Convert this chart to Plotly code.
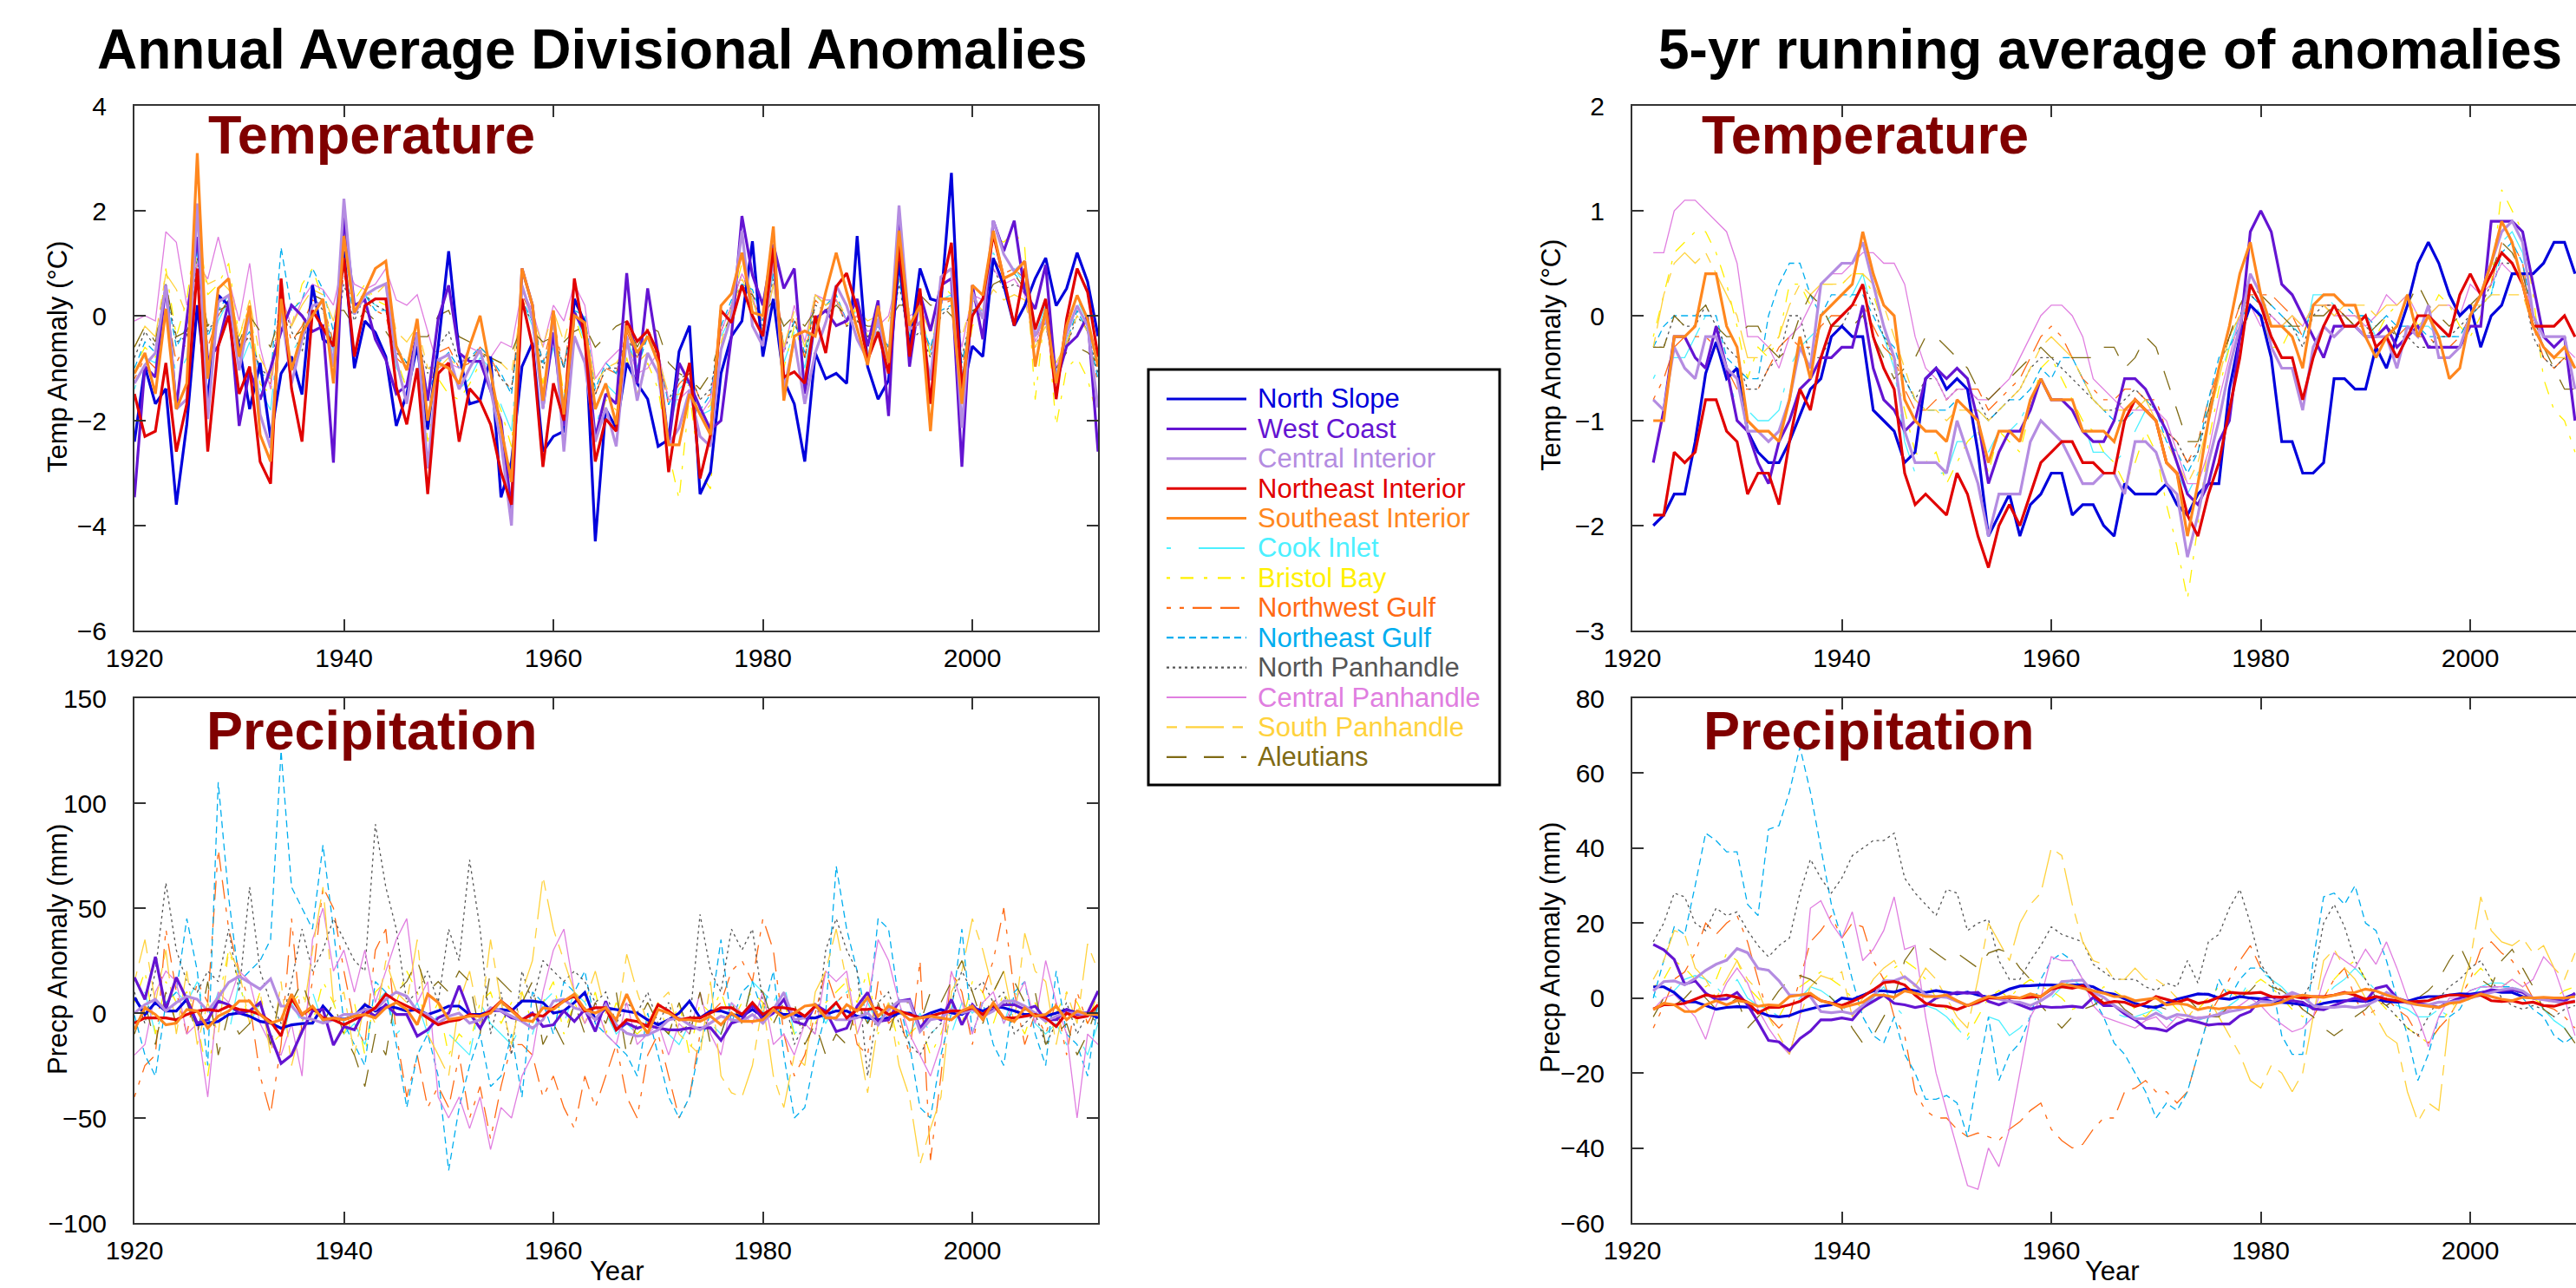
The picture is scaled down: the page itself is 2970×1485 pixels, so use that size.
import plotly.graph_objects as go

W, H = 2970, 1485
FONT = "Liberation Sans, Arial, Helvetica, sans-serif"

years = list(range(1920, 2013))
years5 = list(range(1922, 2011))

regions = ["North Slope", "West Coast", "Central Interior", "Northeast Interior", "Southeast Interior",
           "Cook Inlet", "Bristol Bay", "Northwest Gulf", "Northeast Gulf", "North Panhandle",
           "Central Panhandle", "South Panhandle", "Aleutians"]

# ---------------- Annual temperature anomalies (deg C), 1920-2012 ----------------
ns_t = [-2.4, -0.97, -1.68, -1.39, -3.6, -2.07, 0.2, -1.6, 0.39, 0.2,
        -0.58, -1.78, -0.9, -2.33, -1.1, -0.78, -1.5, 0.58, -0.45, -0.58,
        1.23, -1.0, -0.1, -0.32, -0.78, -2.1, -1.49, -0.58, -2.17, -0.58,
        1.23, -0.71, -1.68, -1.62, -0.78, -3.46, -2.78, -0.97, -0.52, -2.59,
        -2.3, -2.2, 0.32, -0.13, -4.3, -1.78, -2.14, -0.9, -1.29, -1.59,
        -2.49, -2.36, -0.68, -0.19, -3.4, -2.98, -1.1, -0.39, -0.1, 1.42,
        -0.78, 0.32, -1.23, -1.68, -2.78, -0.71, -1.2, -1.1, -1.29, 1.52,
        -0.97, -1.59, -1.23, 1.04, -0.65, 0.9, 0.32, 0.26, 2.72, -1.49,
        -0.58, -0.78, 1.1, 0.58, -0.19, 0.19, 0.71, 1.1, 0.19, 0.52,
        1.2, 0.65, -0.39]
wc_t = [-3.46, -0.97, -1.17, 0.58, -1.75, -0.06, 1.5, -0.84, -0.58, 0.26,
        -2.1, -1.04, -1.6, -1.0, -0.3, 0.2, 0.0, -0.3, -0.2, -2.8,
        1.9, 0.2, 0.3, -0.45, -0.84, -1.49, -1.33, -0.32, -1.62, -0.06,
        0.58, -0.71, -0.87, -0.87, -1.42, -2.0, -3.7, 0.9, 0.2, -1.75,
        -0.32, -2.1, 0.06, -0.32, -2.33, -1.49, -1.68, 0.81, -1.29, 0.52,
        -0.74, -2.46, -0.9, -1.29, -1.75, -2.17, -2.0, -0.39, 1.9, 0.78,
        0.2, 1.36, 0.52, 0.9, -1.49, -0.06, 0.1, -0.19, -0.1, 0.32,
        -0.58, 0.29, -1.91, 1.88, -0.97, 0.42, -0.29, 0.58, 0.71, -2.88,
        0.58, -0.45, 1.81, 1.23, 1.81, 0.45, 0.13, 0.97, -1.29, -0.58,
        -0.39, 0.0, -2.59]
ci_t = [-1.29, -0.94, -0.71, 0.58, -1.78, -1.59, 2.14, -1.97, 0.26, 0.39,
        -1.04, 0.06, -1.88, -2.52, 0.13, -1.29, -0.45, 0.19, 0.26, -0.97,
        2.23, 0.03, 0.39, 0.52, 0.61, -0.84, -1.68, -0.32, -2.91, -0.84,
        -0.74, -1.4, -1.0, -0.65, -1.4, -2.4, -4.0, 0.58, -0.06, -1.78,
        0.06, -2.59, -0.39, -0.9, -2.4, -1.75, -2.49, -0.39, -1.62, -0.71,
        -1.1, -2.46, -2.14, -1.42, -2.3, -2.49, -0.65, 0.0, 1.62, -0.19,
        -0.58, 1.17, -1.42, -0.45, -1.68, -0.71, -0.13, 0.58, 0.19, -0.45,
        -0.84, -0.06, -0.9, 2.1, -0.26, -0.13, -1.23, 0.74, 0.9, -2.14,
        0.45, -0.06, 1.81, 1.17, 0.84, 1.04, -0.39, 0.0, -1.23, -0.32,
        0.19, -0.19, -1.75]
nei_t = [-1.49, -2.3, -2.2, -0.9, -2.59, -1.68, 0.9, -2.59, -0.58, 0.0,
         -1.49, -0.97, -2.78, -3.2, 0.71, -1.39, -2.4, 0.1, -0.23, -0.58,
         1.1, -0.78, 0.19, 0.32, 0.32, -1.36, -2.07, -1.0, -3.4, -1.1,
         -0.9, -2.4, -1.39, -1.62, -2.07, -2.98, -3.6, 0.32, -0.58, -2.88,
         -1.29, -2.0, 0.71, -0.45, -2.78, -1.97, -2.2, -0.1, -0.49, -0.29,
         -0.71, -2.98, -1.68, -0.9, -3.1, -2.27, 0.1, -0.13, 0.58, 0.0,
         -0.39, 1.29, -1.17, -1.07, -1.29, 0.0, -0.71, 0.55, 0.81, 0.13,
         -0.84, -0.32, -1.1, 1.36, -0.78, 0.52, -1.68, 0.45, 1.39, -1.36,
         0.0, 0.32, 1.55, 0.71, -0.19, 0.9, -0.26, 0.32, -1.59, -0.06,
         0.9, 0.45, -0.78]
sei_t = [-1.1, -0.71, -1.49, 0.13, -1.78, -1.29, 3.1, -1.2, 0.52, 0.71,
         -0.78, 0.19, -2.27, -2.78, 0.32, -1.04, -0.32, 0.0, 0.32, -1.29,
         1.52, 0.06, 0.45, 0.9, 1.04, -0.58, -1.04, -0.06, -2.0, -0.9,
         -1.0, -1.3, -0.58, 0.0, -1.1, -2.14, -3.17, 0.9, 0.2, -1.62,
         0.1, -1.88, 0.0, -0.13, -1.78, -1.29, -2.07, -0.19, -0.71, -0.39,
         -0.9, -2.46, -2.46, -1.49, -1.88, -2.27, 0.19, 0.42, 1.2, 0.06,
         0.0, 1.7, -1.62, -0.39, -0.29, -0.39, 0.45, 1.2, 0.45, -0.26,
         -0.94, 0.19, -0.9, 1.62, -0.19, 0.19, -2.2, 0.32, 0.32, -1.68,
         0.58, 0.39, 1.62, 0.71, 0.81, 1.04, -0.97, 0.13, -1.29, -0.19,
         0.39, -0.06, -0.97]
cook_t = [-1.4, -0.8, -0.9, 0.3, -1.2, -0.8, 1.2, -0.9, -0.1, 0.3,
          -1.0, -0.5, -1.4, -1.8, 0.1, -0.7, -0.4, 0.2, 0.3, -0.7,
          1.2, 0.1, 0.4, 0.2, 0.2, -1.0, -1.3, -0.6, -2.0, -0.9,
          -1.0, -1.4, -1.2, -0.8, -1.0, -1.7, -2.2, 0.3, -0.2, -1.4,
          -0.6, -1.6, 0.1, -0.5, -2.2, -1.3, -1.5, -0.4, -1.0, -0.3,
          -0.9, -2.2, -1.4, -1.2, -1.9, -1.8, -0.4, 0.0, 0.9, 0.3,
          -0.3, 0.8, -0.9, -0.3, -1.0, 0.2, 0.3, 0.3, -0.1, 0.1,
          -0.5, -0.3, -0.9, 1.0, -0.4, 0.1, -0.7, 0.3, 0.4, -1.2,
          0.0, 0.0, 1.2, 0.8, 0.9, 0.6, -0.4, 0.2, -1.1, -0.5,
          0.3, -0.1, -1.2]
bb_t = [-1.0, -0.6, -0.8, 0.9, -0.4, 0.3, 1.8, 0.4, 0.6, 1.0,
        -0.4, 0.2, -1.3, -1.5, 0.4, -0.2, 0.6, 0.9, 0.3, -0.6,
        1.6, 0.3, 0.6, 0.3, 0.2, -0.8, -1.4, -0.6, -2.4, -1.2,
        -1.5, -1.6, -1.3, -0.9, -1.3, -1.8, -2.5, 0.5, 0.0, -1.3,
        -0.2, -1.5, 0.0, -0.6, -2.4, -1.6, -1.8, -0.8, -1.5, -0.9,
        -1.4, -2.6, -3.5, -1.5, -3.0, -3.3, -0.6, 0.2, 1.0, 0.4,
        -0.4, 0.6, -1.0, -0.2, -0.8, 0.4, 0.2, 0.4, -0.2, 0.2,
        -0.4, -0.4, -0.7, 1.0, -0.3, 0.2, -0.8, 0.6, 0.4, -1.5,
        -0.2, 0.1, 1.5, 1.4, 1.6, 1.3, -1.6, 0.2, -2.1, -1.0,
        -0.8, -1.2, -2.0]
nwg_t = [-1.2, -0.8, -1.0, 0.2, -0.9, -0.5, 1.0, -0.6, 0.0, 0.3,
         -0.8, -0.3, -1.1, -1.3, 0.3, -0.5, -0.2, 0.3, 0.2, -0.5,
         0.8, 0.1, 0.3, 0.1, 0.0, -0.8, -1.0, -0.5, -1.6, -0.7,
         -0.6, -1.0, -0.9, -0.6, -0.8, -1.2, -1.4, 0.4, 0.0, -0.9,
         -0.1, -1.0, 0.3, -0.3, -1.5, -1.0, -1.1, -0.3, -0.8, -0.2,
         -0.8, -1.7, -1.3, -1.1, -1.6, -1.5, -0.3, 0.2, 0.8, 0.3,
         -0.1, 0.9, -0.6, 0.0, -0.8, 0.3, 0.1, 0.3, -0.2, 0.0,
         -0.4, -0.3, -0.6, 0.9, -0.5, -0.1, -0.7, 0.2, 0.3, -1.0,
         0.0, 0.0, 1.1, 0.8, 0.9, 0.7, -0.5, 0.1, -1.2, -0.6,
         0.1, -0.3, -1.3]
neg_t = [-1.0, -0.5, -0.7, 0.5, -0.6, -0.2, 1.3, -0.4, 0.1, 0.4,
         -0.6, -0.3, -1.1, -1.2, 1.3, 0.1, 0.3, 0.9, 0.5, -0.3,
         0.9, 0.0, 0.4, 0.1, 0.1, -0.6, -0.9, -0.5, -1.5, -0.9,
         -0.7, -1.0, -0.8, -0.6, -0.8, -1.1, -1.5, 0.3, -0.1, -0.9,
         -0.4, -1.0, 0.1, 0.0, -1.4, -0.9, -1.1, -0.5, -1.0, -0.4,
         -0.7, -1.7, -1.2, -1.3, -1.8, -1.5, -0.2, 0.3, 0.6, 0.5,
         -0.1, 0.8, -0.6, -0.1, -0.7, 0.4, 0.2, 0.4, -0.1, 0.0,
         -0.4, -0.2, -0.6, 0.7, -0.4, -0.1, -0.6, 0.1, 0.2, -0.9,
         0.1, 0.1, 1.0, 0.7, 0.8, 0.6, -0.4, 0.0, -1.1, -0.5,
         0.1, -0.3, -1.2]
np_t = [-0.8, -0.3, -0.6, 0.6, -0.5, -0.4, 1.1, -0.3, 0.0, 0.3,
        -0.6, -0.4, -1.0, -1.2, 0.4, -0.3, -0.7, 0.4, 0.1, -0.6,
        0.6, -0.1, 0.4, 0.2, 0.1, -0.7, -0.9, -0.4, -1.1, -0.6,
        -0.3, -0.9, -0.8, -0.7, -0.9, -1.2, -1.4, 0.2, -0.1, -1.0,
        -0.3, -1.0, 0.1, -0.3, -1.5, -1.0, -1.0, -0.4, -0.8, -0.4,
        -0.8, -1.6, -1.2, -1.1, -1.6, -1.4, -0.3, 0.2, 0.6, 0.3,
        -0.2, 0.7, -0.7, -0.1, -0.8, 0.2, 0.1, 0.3, -0.2, -0.1,
        -0.4, -0.3, -0.6, 0.6, -0.5, -0.3, -0.8, 0.0, 0.2, -0.8,
        0.1, 0.0, 0.9, 0.5, 0.6, 0.5, -0.6, -0.1, -1.2, -0.6,
        0.0, -0.3, -1.1]
cp_t = [-0.1, 0.0, -0.1, 1.6, 1.4, 0.2, 1.0, 0.7, 1.5, 0.7,
        -0.1, 1.0, -0.6, -1.4, 0.4, -0.2, 0.3, 0.6, 0.5, 0.2,
        1.1, 0.6, 0.5, 0.6, 0.9, 0.3, 0.2, 0.4, -0.3, -1.0,
        -0.9, -1.0, -0.6, -0.7, -0.8, -0.5, -0.6, 0.5, 0.1, -0.6,
        0.2, -0.1, 0.6, 0.2, -1.2, -0.9, -0.7, -0.5, -1.1, -1.0,
        -0.7, -1.6, -1.6, -1.4, -1.9, -1.6, -0.3, 0.2, 0.8, 0.4,
        -0.4, 0.6, -0.7, 0.2, -0.5, 0.4, 0.3, 0.3, -0.1, 0.0,
        -0.3, -0.2, 0.0, 0.9, 0.0, 0.1, -0.2, 0.3, 0.3, -0.6,
        0.4, 0.3, 0.9, 0.6, 0.7, 0.4, -0.5, -0.1, -1.0, -0.4,
        0.2, -0.2, -0.9]
sp_t = [-0.6, -0.2, -0.4, 0.8, 0.5, 0.0, 1.2, 0.6, 0.7, 0.5,
        -0.4, 0.3, -0.8, -1.2, 0.3, -0.2, 0.2, 0.5, 0.4, -0.1,
        0.9, 0.3, 0.4, 0.4, 0.6, -0.3, -0.5, -0.2, -1.0, -1.0,
        -0.8, -1.0, -0.8, -0.7, -0.8, -0.9, -1.1, 0.3, 0.0, -0.6,
        0.1, -0.5, 0.3, -0.2, -1.3, -1.0, -0.9, -0.6, -0.9, -0.7,
        -0.8, -1.5, -1.5, -1.3, -1.9, -1.7, -0.5, 0.1, 0.7, 0.3,
        -0.3, 0.6, -0.6, 0.1, -0.6, 0.4, 0.2, 0.3, 0.0, 0.1,
        -0.1, 0.0, -0.1, 0.7, 0.1, 0.1, -0.3, 0.3, 0.3, -0.4,
        0.3, 0.1, 0.5, 0.3, 0.4, 0.3, -0.6, -0.2, -0.9, -0.5,
        0.0, -0.3, -0.8]
al_t = [-0.6, -0.2, -0.5, 0.6, -0.4, -0.3, 0.8, -0.2, 0.1, 0.2,
        -0.5, 0.0, -0.3, -0.6, 0.1, -0.4, -0.3, 0.4, 0.3, 0.1,
        0.1, -0.2, 0.1, -0.1, -0.3, -0.6, -0.6, -0.4, -0.4, 0.0,
        0.1, -0.4, -0.5, -0.7, -0.8, -0.9, -0.7, -0.2, -0.3, -0.5,
        -0.4, -0.5, -0.3, -0.2, -0.6, -0.4, -0.2, -0.1, -0.6, -0.2,
        -0.3, -0.9, -1.1, -1.2, -1.4, -1.1, -0.4, 0.0, 0.5, 0.4,
        0.0, 0.3, -0.2, 0.0, -0.2, 0.1, 0.0, 0.2, 0.0, -0.1,
        -0.2, -0.2, -0.1, 0.2, 0.2, 0.4, 0.2, 0.2, 0.0, -0.3,
        0.1, 0.2, 0.6, 0.7, 0.8, 0.5, -0.3, -0.2, -1.0, -0.7,
        -0.6, -0.7, -0.9]

# ---------------- 5-yr running average of temperature anomalies, 1922-2010 ----------------
ns_t5 = [-2.0, -1.9, -1.7, -1.7, -1.2, -0.55, -0.25, -0.6,
         -0.5, -1.1, -1.3, -1.4, -1.4, -1.2, -0.95, -0.7, -0.6, -0.2,
         -0.1, -0.2, -0.2, -0.9, -1.0, -1.1, -1.4, -1.3, -0.6, -0.5,
         -0.7, -0.6, -0.7, -1.3, -2.1, -1.9, -1.7, -2.1, -1.8, -1.7,
         -1.5, -1.5, -1.9, -1.8, -1.8, -2.0, -2.1, -1.6, -1.7, -1.7,
         -1.7, -1.6, -1.8, -1.9, -1.7, -1.6, -1.6, -0.7, -0.2, 0.1,
         0.0, -0.4, -1.2, -1.2, -1.5, -1.5, -1.4, -0.6, -0.6, -0.7,
         -0.7, -0.3, -0.5, -0.2, 0.1, 0.5, 0.7, 0.5, 0.2, 0.0,
         0.1, -0.3, 0.0, 0.1, 0.4, 0.4, 0.4, 0.5, 0.7, 0.7,
         0.4]
wc_t5 = [-1.4, -0.9, -0.2, -0.2, -0.4, -0.5, -0.1, -0.5,
         -1.0, -1.1, -1.4, -1.6, -1.2, -1.0, -0.7, -0.6, -0.4, -0.4,
         -0.3, -0.3, 0.1, -0.5, -0.8, -0.9, -1.1, -1.0, -0.6, -0.5,
         -0.6, -0.5, -0.6, -1.0, -1.6, -1.3, -1.1, -1.1, -0.9, -0.6,
         -0.8, -0.8, -0.9, -1.1, -1.2, -1.2, -1.0, -0.6, -0.6, -0.7,
         -0.9, -1.1, -1.4, -1.7, -1.8, -1.6, -1.2, -1.0, -0.2, 0.8,
         1.0, 0.8, 0.3, 0.2, 0.0, -0.2, -0.4, -0.1, -0.1, -0.1,
         -0.2, -0.2, -0.1, -0.3, -0.2, -0.1, -0.3, -0.3, -0.3, -0.3,
         -0.1, -0.1, 0.9, 0.9, 0.9, 0.8, 0.3, -0.2, -0.3, -0.2,
         -1.0]
ci_t5 = [-0.8, -0.9, -0.3, -0.5, -0.6, -0.2, -0.2, -0.5,
         -0.6, -1.1, -1.1, -1.2, -1.1, -0.8, -0.3, -0.5, 0.3, 0.4,
         0.5, 0.5, 0.7, 0.3, -0.1, -0.4, -1.1, -1.4, -1.4, -1.4,
         -1.5, -1.0, -1.3, -1.6, -2.1, -1.7, -1.7, -1.7, -1.2, -1.0,
         -1.1, -1.2, -1.4, -1.6, -1.6, -1.5, -1.5, -1.7, -1.2, -1.2,
         -1.3, -1.6, -1.7, -2.3, -1.9, -1.4, -1.0, -0.5, -0.1, 0.4,
         0.2, -0.3, -0.5, -0.5, -0.9, -0.3, -0.1, -0.2, -0.1, -0.1,
         -0.2, -0.2, -0.2, -0.5, -0.1, -0.2, 0.1, -0.4, -0.4, -0.3,
         0.0, 0.2, 0.5, 0.8, 0.9, 0.7, 0.0, -0.2, -0.2, -0.2,
         -0.7]
nei_t5 = [-1.9, -1.9, -1.3, -1.4, -1.3, -0.8, -0.8, -1.1,
          -1.2, -1.7, -1.5, -1.5, -1.8, -1.2, -0.7, -0.9, -0.4, -0.1,
          0.0, 0.1, 0.3, -0.2, -0.5, -0.7, -1.5, -1.8, -1.7, -1.8,
          -1.9, -1.5, -1.7, -2.1, -2.4, -2.0, -1.8, -2.0, -1.7, -1.4,
          -1.3, -1.2, -1.2, -1.4, -1.4, -1.5, -1.5, -1.0, -0.8, -0.9,
          -1.0, -1.4, -1.5, -1.9, -2.1, -1.7, -1.4, -0.9, -0.4, 0.3,
          0.1, -0.2, -0.4, -0.4, -0.8, -0.4, -0.1, 0.1, -0.1, -0.1,
          0.0, -0.3, -0.2, -0.4, -0.2, 0.0, 0.0, -0.1, -0.2, 0.2,
          0.4, 0.2, 0.4, 0.6, 0.5, 0.3, -0.1, -0.1, -0.1, 0.0,
          -0.2]
sei_t5 = [-1.0, -1.0, -0.2, -0.2, -0.1, 0.4, 0.4, -0.1,
          -0.3, -1.0, -1.1, -1.1, -1.2, -0.8, -0.2, -0.6, 0.0, 0.1,
          0.2, 0.3, 0.8, 0.4, 0.1, 0.0, -0.8, -1.0, -1.1, -1.1,
          -1.2, -0.8, -0.9, -1.0, -1.4, -1.1, -1.1, -1.2, -0.8, -0.6,
          -0.8, -0.8, -0.8, -1.1, -1.1, -1.1, -1.2, -0.9, -0.8, -0.9,
          -1.0, -1.4, -1.5, -2.1, -1.6, -1.0, -0.5, -0.1, 0.4, 0.7,
          0.2, -0.1, -0.1, -0.2, -0.5, 0.1, 0.2, 0.2, 0.1, 0.1,
          -0.2, -0.4, -0.2, -0.1, 0.2, -0.2, 0.0, -0.2, -0.6, -0.5,
          0.0, 0.2, 0.5, 0.9, 0.7, 0.3, -0.1, -0.3, -0.4, -0.3,
          -0.5]
cook_t5 = [-0.6, -0.4, -0.4, -0.4, -0.2, 0.0, -0.2, -0.5,
           -0.9, -0.9, -1.0, -1.0, -0.9, -0.5, -0.3, -0.2, -0.1, 0.0,
           0.1, 0.2, 0.4, 0.0, -0.2, -0.5, -1.2, -1.5, -1.5, -1.5,
           -1.5, -1.2, -1.2, -1.1, -1.3, -1.1, -1.1, -1.0, -0.8, -0.6,
           -0.8, -0.8, -0.8, -1.0, -1.3, -1.3, -1.4, -1.3, -1.1, -0.9,
           -1.0, -1.4, -1.5, -1.7, -1.5, -1.0, -0.6, -0.3, 0.0, 0.2,
           0.0, -0.1, -0.1, -0.1, -0.3, 0.2, 0.2, 0.1, 0.0, 0.0,
           0.0, -0.2, -0.1, -0.3, -0.1, -0.1, -0.1, -0.2, -0.2, -0.2,
           0.0, 0.1, 0.2, 0.7, 0.8, 0.6, 0.0, -0.3, -0.4, -0.3,
           -0.5]
bb_t5 = [-0.2, 0.2, 0.6, 0.7, 0.8, 0.8, 0.6, 0.3,
         -0.1, -0.6, -0.3, -0.4, -0.2, 0.3, 0.3, 0.1, 0.3, 0.3,
         0.3, 0.4, 0.4, 0.2, -0.1, -0.5, -0.9, -1.3, -1.4, -1.3,
         -1.6, -1.4, -1.2, -1.1, -1.5, -1.1, -1.2, -1.3, -0.9, -0.5,
         -0.4, -0.6, -0.8, -1.0, -1.1, -1.3, -1.4, -1.6, -1.4, -1.1,
         -1.3, -1.8, -2.2, -2.7, -2.0, -1.2, -0.7, -0.3, -0.1, 0.0,
         0.0, -0.3, -0.3, -0.1, -0.2, 0.1, 0.1, 0.0, 0.0, 0.0,
         -0.1, -0.2, 0.0, 0.1, 0.2, -0.1, 0.0, 0.2, 0.1, -0.1,
         -0.2, 0.0, 0.3, 1.2, 1.0, 0.8, 0.2, -0.6, -0.9, -1.0,
         -1.3]
nwg_t5 = [-0.8, -0.6, -0.3, -0.2, -0.2, -0.2, -0.3, -0.5,
          -0.7, -0.7, -0.7, -0.5, -0.3, -0.2, -0.3, -0.3, -0.1, 0.0,
          0.0, 0.1, 0.1, -0.1, -0.3, -0.4, -0.7, -0.9, -0.9, -0.8,
          -0.8, -0.7, -0.7, -0.7, -0.9, -0.8, -0.7, -0.6, -0.4, -0.2,
          -0.1, -0.2, -0.4, -0.6, -0.7, -0.8, -0.8, -0.7, -0.7, -0.8,
          -0.8, -1.1, -1.2, -1.4, -1.2, -0.8, -0.5, -0.2, 0.1, 0.2,
          0.2, 0.2, 0.1, 0.0, -0.2, 0.1, 0.1, 0.1, 0.0, -0.1,
          -0.1, -0.2, -0.1, -0.2, -0.1, -0.2, -0.2, -0.3, -0.3, -0.2,
          0.0, 0.1, 0.3, 0.7, 0.7, 0.5, -0.1, -0.4, -0.5, -0.4,
          -0.6]
neg_t5 = [-0.3, -0.1, 0.0, 0.0, 0.0, 0.0, 0.0, -0.4,
          -0.5, -0.6, -0.6, 0.0, 0.3, 0.5, 0.5, 0.2, 0.0, 0.2,
          0.2, 0.2, 0.2, 0.0, -0.2, -0.3, -0.6, -0.8, -0.9, -0.9,
          -0.9, -0.8, -0.9, -0.9, -1.0, -0.9, -0.8, -0.8, -0.7, -0.5,
          -0.6, -0.4, -0.4, -0.6, -0.8, -0.9, -1.0, -1.0, -0.9, -0.8,
          -0.9, -1.2, -1.3, -1.5, -1.3, -0.8, -0.4, -0.3, -0.1, 0.2,
          0.1, 0.1, 0.0, -0.1, -0.2, 0.1, 0.2, 0.2, 0.1, 0.0,
          0.0, -0.1, 0.0, -0.1, -0.1, -0.1, -0.2, -0.2, -0.2, -0.2,
          0.0, 0.1, 0.2, 0.6, 0.7, 0.5, 0.0, -0.3, -0.4, -0.3,
          -0.5]
np_t5 = [-0.3, -0.3, 0.0, -0.1, -0.1, 0.1, -0.1, -0.3,
         -0.4, -0.7, -0.7, -0.5, -0.4, 0.0, 0.0, -0.4, -0.4, -0.2,
         -0.1, 0.1, 0.3, 0.1, -0.2, -0.4, -0.6, -0.8, -0.6, -0.6,
         -0.8, -0.7, -0.7, -0.8, -1.0, -0.9, -0.8, -0.7, -0.5, -0.4,
         -0.4, -0.5, -0.6, -0.7, -0.8, -0.9, -0.9, -0.8, -0.7, -0.8,
         -0.9, -1.1, -1.2, -1.4, -1.3, -0.9, -0.5, -0.2, 0.0, 0.2,
         0.1, 0.0, -0.1, -0.1, -0.3, 0.0, 0.1, 0.1, 0.0, -0.1,
         -0.1, -0.2, -0.1, -0.2, -0.2, -0.3, -0.3, -0.2, -0.2, -0.1,
         0.0, 0.1, 0.3, 0.5, 0.5, 0.3, -0.2, -0.4, -0.5, -0.4,
         -0.5]
cp_t5 = [0.6, 0.6, 1.0, 1.1, 1.1, 1.0, 0.9, 0.8,
         0.5, -0.2, -0.2, -0.3, -0.5, -0.2, -0.1, 0.1, 0.3, 0.4,
         0.4, 0.5, 0.6, 0.6, 0.5, 0.5, 0.3, -0.2, -0.5, -0.6,
         -0.8, -0.7, -0.7, -0.8, -0.8, -0.7, -0.6, -0.4, -0.2, 0.0,
         0.1, 0.1, 0.0, -0.2, -0.6, -0.7, -0.8, -0.9, -0.9, -0.9,
         -0.9, -1.0, -1.3, -1.6, -1.6, -1.3, -0.8, -0.4, 0.0, 0.1,
         -0.1, 0.0, -0.1, 0.0, -0.1, 0.1, 0.1, 0.0, 0.0, 0.0,
         -0.1, 0.0, 0.2, 0.1, 0.2, 0.0, 0.0, 0.1, 0.1, 0.0,
         0.3, 0.2, 0.3, 0.5, 0.4, 0.4, 0.0, -0.3, -0.4, -0.3,
         -0.4]
sp_t5 = [-0.3, 0.2, 0.5, 0.6, 0.5, 0.6, 0.4, 0.2,
         0.0, -0.4, -0.4, -0.3, -0.2, 0.1, 0.3, 0.2, 0.3, 0.3,
         0.3, 0.4, 0.4, 0.3, 0.1, -0.2, -0.5, -0.8, -0.9, -0.9,
         -1.0, -0.9, -0.9, -0.9, -1.0, -0.9, -0.8, -0.7, -0.5, -0.3,
         -0.2, -0.3, -0.4, -0.6, -0.8, -0.9, -0.9, -0.9, -0.9, -0.8,
         -1.0, -1.2, -1.4, -1.6, -1.4, -1.0, -0.6, -0.2, 0.0, 0.1,
         0.0, -0.1, -0.1, 0.0, -0.1, 0.1, 0.1, 0.0, 0.1, 0.1,
         0.1, 0.0, 0.1, 0.1, 0.2, 0.0, 0.0, 0.1, 0.1, 0.0,
         0.1, 0.1, 0.2, 0.2, 0.2, 0.2, -0.1, -0.3, -0.4, -0.4,
         -0.5]
al_t5 = [-0.3, -0.3, 0.0, -0.1, 0.0, 0.1, -0.1, -0.2,
         -0.2, -0.1, -0.1, -0.3, -0.4, -0.3, 0.0, 0.2, 0.1, -0.1,
         -0.1, -0.1, 0.0, -0.2, -0.4, -0.6, -0.5, -0.4, -0.2, -0.2,
         -0.3, -0.4, -0.5, -0.7, -0.8, -0.7, -0.6, -0.5, -0.4, -0.3,
         -0.4, -0.4, -0.4, -0.4, -0.4, -0.3, -0.3, -0.5, -0.4, -0.2,
         -0.3, -0.6, -0.9, -1.2, -1.2, -0.9, -0.5, -0.2, 0.1, 0.3,
         0.2, 0.1, 0.0, -0.1, -0.1, 0.0, 0.0, 0.1, 0.0, -0.1,
         -0.2, -0.1, 0.0, -0.2, 0.1, 0.3, 0.1, 0.0, -0.1, 0.0,
         0.1, 0.2, 0.4, 0.7, 0.6, 0.4, 0.0, -0.3, -0.5, -0.7,
         -0.7]

# ---------------- Annual precipitation anomalies (mm), 1920-2012 ----------------
ns_p = [7.4, -0.7, 5, 1, 1, 6.5, -5.6, -4.8, -4, -0.7,
        0, -1.5, -4, -4.8, -7.2, -5.6, -5, -4.8, 3.3, -2.3,
        -3, -1.5, 4, 1, 3.3, 2.5, 1, 1.7, -0.7, 1,
        3.3, 3.3, -0.7, -0.7, 1, 1.7, 1, 5.7, 5.7, 5,
        0, 1, 5, 9.8, -3.2, 2.5, 1.7, 1, 0, -3.2,
        -5.6, -3.2, 0, 5.7, -2.3, 1, 1, -0.7, -1.5, 1.7,
        -1.5, 1, -0.7, -0.7, -2.3, -2.3, -0.7, 1, 1, -1.5,
        -2.3, -3.2, -2.3, 0, 0, -2.3, 0, 1.7, 0, -0.7,
        2.5, 1, 3.3, 2.5, 1, -0.7, -0.7, -1.5, 0, 1.7,
        0, 0, -2.3]
wc_p = [17, 6.5, 26.8, 1.7, 17, 6.5, -4.8, -3.2, 5.7, 4,
        0, 1, 5, -11, -24, -20, -8.8, 1, 1.7, -15.3,
        -6.4, -8, 1.7, -1.5, 4, -0.7, -0.7, -11, -8, -2.3,
        0, 13, 0, -7.2, 1.7, 1, -2.3, -3.2, 0, -6.4,
        -5.6, 1, -4, 1.7, -8.8, 5.7, -8, -4.8, -7.2, -5.6,
        -7.2, -8, -8, -7.2, -7.2, -7, -13, -4.8, -3.2, 4,
        -3.2, 0, 6.5, -4, -5.6, 4, 1, -8.8, -7.2, 3.3,
        9.8, -4, -3.2, 5.7, 6.5, -7.2, -0.7, -3.2, 6.5, -5.6,
        4, -1.5, 1.7, 4, 4, 1.7, 3.3, -3.2, -3.2, 1.7,
        -0.7, 0, 10.5]
ci_p = [0, 4, 6.5, 1, 5, 8, 6.5, 1, 7.4, 14.6,
        17.5, 14.6, 11.4, 16.3, 3.3, 3.3, -2.3, -3, -4.8, -3.2,
        -0.7, -0.7, 1.7, 1.7, 6.5, 10, 8, 1, -0.7, -4.8,
        -1.5, 0, -4.8, -3.2, 2.5, 1, -1.5, -4, -7.2, -3.2,
        5.7, 6.5, 2.5, 1, -3.2, 4, -5.6, -9.6, -11, -10.4,
        -8, -3.2, -2.3, -5.6, -8, -4.8, -1.5, -3.2, -4, -0.7,
        -4.8, 1.7, 9.8, -3.2, -2.3, 3.3, -0.7, -3.2, -3.2, -2.3,
        0, -5.6, 1.7, 5.7, 5.7, -8.8, -3.2, -2.3, 1.7, 0,
        1.7, -1.5, 1, 5.7, 5.7, 3.3, 0, -4, -1.5, 0,
        0, -0.7, -0.7]
nei_p = [-4.8, -2.3, -2.3, -2.3, -3.2, -0.7, 1, 1.7, 1, 3.3,
         1.7, 1, -0.7, -4, -11, 7, -0.7, 2.5, -2.3, -3.2,
         -5.6, -3.2, -0.7, 2.5, 9, 5.7, 3.3, 1, -2.3, -5.6,
         -4, -3.2, -0.7, -1.5, 1, 5.7, 1.7, -3.2, -0.7, -1.5,
         2.5, 5.7, 8.2, 1, 2.5, 2.5, -8, -3.2, -4, -6.4,
         4, 1, -3.2, -2.3, -2.3, 0, 2.5, 2.5, -0.7, 5,
         -0.7, 2.5, 2.5, 1.7, -1.5, 3.3, 0, 5, -2.3, 1.7,
         1.7, 2.5, -0.7, 1, -0.7, -2.3, -1.5, 0, 1, 1,
         2.5, -0.7, 4, -2.3, -2.3, -1.5, -0.7, -2.3, -6.4, 0,
         -2.3, -1.5, 4]
sei_p = [-8, 2.5, -0.7, -5.6, -4.8, 1.7, 1, -7.2, -1.5, 1,
         5.7, 5.7, -0.7, -4.8, -3.2, 9, -0.7, 3.3, -3.2, -2.3,
         -3.2, -1.5, -0.7, -2.3, 2.5, 5, 1.7, -5.6, 9, 5,
         -3, -2.3, -1.5, -1.5, 0, 5.7, 1, -3.2, -4, 2.5,
         1.7, 5.7, 9, 1.7, 0, 2.5, -3.2, 9, -2.3, -9.6,
         1.7, 0, -3.2, -3.2, -4, -1.5, -5.6, 0, -4, -4,
         -3.2, 1.7, -2.3, 0, 3.3, 4, -2.3, -2.3, 4, 1,
         7.4, -1.5, 3.3, 1, -3.2, -2.3, -1.5, -2.3, -3.2, 1,
         3.3, -3.2, 5, -2.3, -4, 2.5, -1.5, -0.7, 3.3, -3.2,
         1, -0.7, -0.7]
cook_p = [-5, 10, -10, 5, 10, 5, 15, -5, 10, -10,
          15, -5, 5, -10, -15, 5, -5, 10, -5, 5,
          -10, -5, -15, 5, 10, -10, -5, 5, -10, 0,
          -10, -15, -20, 5, -5, -10, -15, -5, -10, 5,
          10, -5, 10, 5, -5, 0, -10, -5, -10, 0,
          -5, -10, -15, -5, 0, -5, -10, 5, -5, 15,
          10, 5, 15, -10, -5, 5, -5, 5, 10, 15,
          5, -5, 5, -5, -10, 0, -10, -5, -10, 5,
          0, 5, 10, -5, 10, 5, -5, -10, -5, -15,
          -10, -20, -5]
bb_p = [5, 20, -10, 15, 5, 10, -5, -30, 5, 30,
        15, -5, 10, -15, -10, 5, 10, -5, 15, 5,
        -10, 5, -20, 10, 15, 5, 20, 10, -5, 5,
        -20, -10, -15, 5, 10, -5, 5, 10, -5, 5,
        15, -10, 5, -5, 10, -10, 5, -5, -10, -5,
        5, -10, 5, -20, 5, 0, 10, -5, 5, 10,
        5, -5, 5, -10, -5, -5, 5, 10, 15, 5,
        20, -10, 5, -15, -10, -5, -20, -10, 5, -5,
        15, 10, -5, 10, 0, -10, 5, -5, 0, 10,
        5, -5, 10]
nwg_p = [-40, -25, -20, 40, 10, -10, 15, 5, 78, 40,
         20, 5, -30, -48, -15, 45, -10, 15, 60, 50,
         20, -5, -15, 30, 40, -10, -40, -20, -45, -35,
         -45, -20, -50, -35, -60, -35, -15, -15, -20, -40,
         -30, -45, -55, -30, -45, -30, -15, -40, -50, -20,
         -10, -30, -50, -40, -10, 0, 5, 20, 25, 15,
         45, 30, -10, -30, -20, 0, 20, 5, 10, -15,
         -20, 15, -5, 0, -20, 25, -70, -30, 20, 10,
         -15, 10, 25, 50, 10, -15, 0, -10, 5, -20,
         10, -5, 5]
neg_p = [-1, -20, -30, 5, 10, 45, 20, -25, 110, 55,
         15, 20, 25, 35, 125, 60, 50, 40, 80, 40,
         -5, -15, -25, 15, 10, -15, -45, -20, -10, -30,
         -75, -45, -25, -10, -35, -30, -10, -40, 10, 5,
         -10, 15, 10, 20, -5, -10, -15, -20, -30, 0,
         -20, -40, -50, -40, -15, 0, 35, -5, 10, 15,
         0, 20, -20, -50, -45, -20, 0, 70, 40, 20,
         -5, 45, 40, 5, -15, -45, -50, -20, 0, 40,
         -10, 5, -15, -25, 10, 15, -10, -25, 20, -10,
         -15, -30, 5]
np_p = [10, -5, 20, 62, 30, 15, 10, 20, 15, 40,
        10, 60, 20, 5, -5, 15, 40, 20, 30, 45,
        35, 25, 20, 90, 60, 40, 5, 10, 20, 5,
        40, 25, 73, 40, -10, 10, -20, 20, 5, 25,
        20, 15, 20, 15, 5, 10, -5, 5, 0, 10,
        -5, 5, -10, -5, 47, 20, 10, 40, 30, 40,
        5, 0, 10, -15, -5, -10, 30, 45, 30, 20,
        -30, 5, 10, -5, -15, -20, -10, -5, 5, 20,
        10, 15, 5, 10, -10, -5, 0, -15, -5, 5,
        -10, 0, -5]
cp_p = [-20, -15, 10, 20, 15, -10, -5, -40, 10, 5,
        20, 15, -5, -15, -20, -5, -30, 35, 50, 20,
        30, 10, 30, 5, 20, 35, 45, 5, 15, -40,
        -50, -40, -55, -40, -65, -45, -50, -30, -20, 10,
        30, 40, 10, -5, 5, -10, -15, 5, -15, -10,
        -5, -20, -5, -10, 10, -10, -20, 5, 0, -5,
        10, -15, -10, -20, -5, -10, 20, 15, 20, -10,
        5, 35, 25, 5, -10, -20, -30, -15, 20, 5,
        -10, 5, 10, -5, 5, 15, -5, 25, 5, -10,
        -50, -10, -15]
sp_p = [15, 35, 5, 30, -10, 20, -15, 5, -10, 30,
        20, -5, 10, -20, 15, -25, -5, 30, 60, 5,
        10, -20, 5, -5, 25, 10, 5, 35, -10, -20,
        -30, 5, 20, -5, 35, 5, -15, 10, 25, 65,
        40, 25, 10, 5, 20, 0, -5, 28, 10, -5,
        5, 10, -10, -15, -20, 15, -30, -38, -40, -25,
        5, -30, -45, -20, -25, 10, 20, 40, 15, -10,
        -38, -5, 5, -25, -40, -72, -55, -40, 10, 20,
        45, 30, 10, 20, -5, 38, 20, 15, -15, 10,
        -5, 33, 20]
al_p = [-10, 5, -15, 10, -5, 5, -10, 15, -20, 0,
        -10, -5, 5, -15, 10, 5, 15, 0, -5, 5,
        -10, -20, -35, -10, -20, 10, 15, 25, 10, 15,
        10, 20, 15, -10, 20, 15, 10, 5, 15, -15,
        -5, -15, 5, -10, 5, -5, 10, -20, -5, 5,
        -5, -10, 5, -10, 10, -15, -10, 5, -5, 15,
        10, -5, 5, 5, -15, -5, -20, -10, -15, 5,
        -5, 5, -10, 5, 5, -5, 10, 5, 15, 25,
        10, -5, 10, 20, 15, 5, 10, -15, -10, -5,
        -20, -10, 5]

# ---------------- 5-yr running average of precipitation anomalies, 1922-2010 ----------------
ns_p5 = [3, 3, 1.5, -1, -1, -2, -3, -2.5,
         -2.3, -2.4, -3.6, -4.7, -5, -4.7, -3.6, -2.9, -2.2, -1.8,
         0, -0.4, 0.8, 1.9, 1.9, 1.6, 2.4, 1.9, 1.5, 2,
         1.6, 1.1, 1.6, 0.8, 0.2, 1.1, 2.4, 3.2, 3.3, 3.5,
         3.5, 3.3, 3.5, 3.5, 3, 1.5, 1, -0.3, -1.4, -2.2,
         -2.5, -1.4, -0.3, 0.4, 1.1, 1, 0, -0.3, 0.4, 0,
         -0.2, -0.9, -1.1, -1.4, -1.8, -2.2, -1.4, -0.9, -0.7, -0.7,
         -0.9, -0.3, -0.9, -1.1, -0.9, 0, 0.4, 0.4, 0.8, 1.1,
         1, 1.5, 1.9, 1.5, 1.5, 0.4, 0, 0, -0.3, 0,
         1.1]
wc_p5 = [14.3, 12.9, 10.3, 3.7, 4.6, 1.3, -0.4, -0.2,
         1.5, -1.8, -6.4, -11.3, -11.7, -14, -10.8, -8.8, -5.8, -5.8,
         -5.3, -5.8, -2.5, -0.9, 0.8, -1.4, -1.8, -2.5, -2, 0,
         0.8, 1.5, 1.3, 1.5, -0.9, -1.8, -0.7, -1.8, -2.9, -2.2,
         -2.5, -2.4, -2.2, -2.5, 0.2, -2, -2, -4.2, -5.8, -8,
         -8.2, -8.8, -6.9, -5.8, -6.4, -7.2, -6.9, -6.9, -4.7, -3.6,
         -0.3, 0.4, -0.7, -0.7, -1.1, -2.9, -3.1, -2, -0.9, 0,
         -0.9, 2.6, 3.3, 0, -0.9, -1.4, -1.8, -2.5, -1.1, 0,
         0.7, 1.3, 2.2, 1.9, 2.2, 1.5, 0, -0.3, -0.7, -0.9,
         1.3]
ci_p5 = [1.9, 4.4, 4.6, 3.5, 5.2, 7.4, 9, 10.1,
         13.2, 12.1, 7.9, 7.4, 4.6, 0.8, 0.8, 0.4, -3.6, -3.9,
         -3.6, -4.2, -2, 0.4, 4.6, 4.6, 5.7, 3.5, 0.8, 0.4,
         0.2, -0.9, -2, -1.4, 0.2, -0.3, -0.9, -1.1, -2, -0.7,
         1.1, 4.4, 4.6, 4.8, 1.5, 0.2, -2, -3.6, -5.5, -5.5,
         -4, -5.5, -4.4, -4.7, -5.5, -5, -4.4, -3.6, -3.1, -2.2,
         -0.9, -1.1, 0.2, 1.5, 0.4, -2, -2.5, -2.5, -2.2, -2.5,
         -2, -0.7, 1.5, 0, -1.4, -1.8, -1.8, -1.1, -1.1, -0.7,
         0, 0.8, 1.5, 2.2, 2.6, 1.9, 0, -0.4, -0.9, -1.3,
         -0.7]
nei_p5 = [-2.9, -1.8, -1.8, -1.4, -0.3, 0.8, 0.4, 0.8,
          0.2, -1.1, -4, -2.5, -2.5, -1.8, -0.9, 1, -0.7, -1.4,
          -2, -0.9, 0.4, 2.2, 4.1, 4.4, 3.5, 0.8, -1.4, -2,
          -2.2, -3.1, -2, -1.1, 0, 0, 0.2, 0, 0.2, 0.4,
          2.4, 3, 2.6, 3.3, 0.8, -1.4, -0.9, -1.1, -2.2, -1.4,
          0.4, -0.3, -1.1, -0.3, -1.4, -0.9, 0.2, 1.5, 1.3, 1.3,
          1.5, 0.4, 0.2, 0.4, 0, 0.4, 0.4, 0.8, 1.5, 0.8,
          -0.3, 0.4, -0.3, -0.7, -1.1, -0.9, -0.7, 0.2, 0.8, 0.8,
          0.4, 0.8, -0.7, -0.9, -0.7, -1.4, -1.1, -2, -2.2, -1.4,
          -0.9]
sei_p5 = [-3.1, -1.4, -1.8, -3.6, -3.6, -1.8, -0.7, -1.8,
          -0.7, -1.1, -2.2, -1.8, -2, 0.4, 0.8, 1.3, -0.7, -1.4,
          -2.5, -1.8, -1.1, 0.8, 0.8, 0.2, 1.9, 1.3, 0.4, 0.4,
          0.8, -0.7, -2, -0.7, 0.4, 0, 0.4, 0, 1.1, 0.4,
          2.6, 3.7, 3.3, 2.6, 1.9, 1.3, 0.4, 0.4, -0.7, -0.3,
          0, -1.8, -1.4, -1.8, -3.1, -2.5, -2.9, -2.5, -2.5, -2.5,
          -2, -1.8, -1.1, 0.2, 0.8, 0.4, 0.2, 0.8, 1.3, 1.5,
          2.4, 1.9, 0.8, 0, -1.1, -1.8, -2.2, -2.5, -1.4, -1.1,
          0, 1.1, 0.4, -0.3, -0.7, 0.2, 0, 0.2, 0, 0,
          0.4]
cook_p5 = [1, -2, 2, 5, 6, 5, 3, 0,
           5, 0, -2, -3, -5, -3, 0, 3, 2, 0,
           -2, -5, -3, 0, 3, -2, -5, -3, -2, -3,
           -5, -8, -11, -7, -5, -6, -10, -8, -5, -3,
           0, 3, 5, 3, 0, -2, -4, -5, -5, -4,
           -3, -5, -7, -6, -6, -5, -4, -2, 0, 5,
           7, 5, 3, 0, -3, -2, 0, 3, 5, 8,
           5, 2, 0, -2, -3, -5, -5, -3, -5, -3,
           0, 3, 4, 4, 3, 2, 0, -3, -6, -8,
           -12]
bb_p5 = [3, 5, 10, 8, 5, 3, 5, 12,
         10, 3, 0, -3, -5, 0, 3, 5, 7, 5,
         3, 0, -3, 0, 5, 8, 10, 8, 5, 0,
         -3, -8, -10, -5, 0, 2, 0, 3, 5, 3,
         2, 0, -3, -2, 0, 3, 2, 0, -3, -5,
         -2, 0, -3, -5, -3, 0, 3, 2, 0, 3,
         5, 3, 0, -3, -5, -3, 0, 5, 8, 10,
         5, 0, -3, -5, -8, -10, -12, -8, -3, 0,
         5, 8, 5, 3, 5, 3, 0, -2, 0, 2,
         3]
nwg_p5 = [-8, -2, 5, 7, 12, 20, 17, 20,
          22, 15, 5, -5, -8, -5, 5, 15, 18, 22,
          16, 20, 19, 10, 5, -5, -10, -25, -30, -32,
          -32, -35, -37, -36, -37, -38, -35, -33, -30, -28,
          -35, -38, -40, -39, -35, -32, -32, -25, -24, -22,
          -25, -25, -28, -25, -15, -5, 0, 5, 10, 14,
          8, 5, 2, 0, -3, -5, 0, 5, 8, 0,
          -5, -3, 0, -3, -5, -10, -12, -8, -5, 0,
          5, 13, 15, 12, 10, 5, 0, -2, -3, -5,
          -8]
neg_p5 = [0, 10, 19, 17, 30, 44, 42, 39,
          39, 25, 22, 45, 46, 55, 67, 55, 40, 25,
          16, 5, -5, -10, -12, -5, -15, -20, -27, -27,
          -26, -28, -37, -20, -5, -22, -15, -12, -5, 5,
          10, 12, 10, 5, 0, -5, -12, -15, -20, -25,
          -32, -28, -30, -25, -15, -5, 5, 0, 5, 8,
          8, 5, -10, -15, -15, 10, 27, 28, 25, 30,
          20, 18, 10, 0, -10, -22, -15, -5, -5, -3,
          2, 3, 3, 3, 3, 0, -3, -5, -10, -12,
          -10]
np_p5 = [15, 20, 28, 27, 20, 18, 24, 22,
         23, 18, 14, 11, 14, 16, 28, 37, 32, 28,
         32, 38, 40, 42, 42, 44, 32, 28, 25, 22,
         29, 28, 18, 20, 21, 10, 5, 5, 10, 14,
         19, 17, 16, 15, 9, 7, 5, 5, 5, 3,
         2, 4, 3, 10, 4, 15, 17, 24, 29, 20,
         9, 5, 0, -2, 0, 5, 20, 25, 19, 10,
         5, 0, -2, -5, -8, -10, -5, 0, 3, 5,
         8, 10, 5, 0, -2, -3, -2, -3, -5, -3,
         -2]
cp_p5 = [-3, 0, 1, -2, -5, -11, -2, 4,
         8, 4, -3, -8, -12, -15, -5, 24, 26, 20,
         16, 23, 10, 13, 18, 27, 13, 14, -5, -20,
         -30, -40, -50, -51, -40, -45, -35, -20, -5, 0,
         11, 10, 10, 5, -2, -5, -6, -7, -8, -6,
         -5, -8, -5, -6, -5, -5, -4, -3, -2, 0,
         -2, -5, -7, -9, -8, -5, 5, 12, 10, 8,
         13, 9, 15, 8, 0, -5, -13, -5, 0, 0,
         2, 3, 3, 3, 5, 3, 5, 11, 8, 0,
         -10]
sp_p5 = [5, 10, 18, 17, 8, 5, 0, 5,
         10, 5, 2, -5, -10, -15, -5, 3, 6, 5,
         7, -5, 0, 5, 8, 10, 5, 3, 8, 5,
         0, -5, -8, 5, 20, 15, 10, 20, 25, 28,
         40, 38, 25, 15, 10, 9, 5, 5, 8, 5,
         5, 3, 0, -5, -2, 0, -5, -10, -15, -22,
         -24, -18, -20, -25, -20, -5, 10, 13, 8, 5,
         0, -5, -10, -12, -25, -33, -28, -30, -5, 0,
         10, 27, 18, 15, 14, 16, 12, 14, 8, 5,
         12]
al_p5 = [-5, 0, -2, 0, 3, 0, -3, -2,
         0, -8, -5, -2, 2, 5, 6, 5, 3, 0,
         -3, -8, -12, -10, -5, 0, 10, 14, 14, 12,
         10, 12, 10, 8, 12, 13, 12, 8, 5, -2,
         -5, -8, -5, -3, -2, 0, 0, -3, -5, -3,
         -2, -3, -2, 0, -3, -5, -5, -2, 0, 2,
         5, 3, 2, 0, -3, -5, -8, -10, -8, -5,
         -3, 0, -2, 0, 0, 0, 2, 5, 10, 14,
         8, 5, 3, 10, 13, 8, 3, -3, -5, -8,
         -12]

temp_annual = [ns_t, wc_t, ci_t, nei_t, sei_t, cook_t, bb_t, nwg_t, neg_t, np_t, cp_t, sp_t, al_t]
temp_5yr = [ns_t5, wc_t5, ci_t5, nei_t5, sei_t5, cook_t5, bb_t5, nwg_t5, neg_t5, np_t5, cp_t5, sp_t5, al_t5]
prec_annual = [ns_p, wc_p, ci_p, nei_p, sei_p, cook_p, bb_p, nwg_p, neg_p, np_p, cp_p, sp_p, al_p]
prec_5yr = [ns_p5, wc_p5, ci_p5, nei_p5, sei_p5, cook_p5, bb_p5, nwg_p5, neg_p5, np_p5, cp_p5, sp_p5, al_p5]

for grp, n in ((temp_annual, 93), (prec_annual, 93), (temp_5yr, 89), (prec_5yr, 89)):
    for name, arr in zip(regions, grp):
        assert len(arr) == n, (name, len(arr), n)

# ---------------- styles ----------------
colors = ["#0000DC", "#6414D2", "#B48CE1", "#E10000", "#FF871E",
          "#4CF0FF", "#FFF000", "#FF6A14", "#00AEEF", "#555555",
          "#E07EE0", "#FFD23C", "#7F6A14"]
dashes = ["solid", "solid", "solid", "solid", "solid",
          "5px,32px,53px,10px", "4px,12px,15px,12px", "5px,10px,5px,10px,22px,10px,22px,10px",
          "8px,5px", "3px,4px", "solid", "12px,10px,44px,10px", "23px,20px"]
main_width, thin_width = 3.2, 1.3

fig = go.Figure()

panels = [("x", "y", years, temp_annual), ("x2", "y2", years, prec_annual),
          ("x3", "y3", years5, temp_5yr), ("x4", "y4", years5, prec_5yr)]
order = list(range(5, 13)) + list(range(0, 5))
for xa, ya, xs, series in panels:
    for i in order:
        main = i < 5
        fig.add_trace(go.Scatter(
            x=xs, y=series[i], mode="lines", name=regions[i], showlegend=False,
            xaxis=xa, yaxis=ya, hoverinfo="skip",
            line=dict(color=colors[i], width=main_width if main else thin_width,
                      dash=dashes[i])))


def px(v):
    return v / W


def py(v):
    return 1 - v / H


tickfont = dict(family=FONT, size=30, color="black")
LX = [px(155), px(1266)]
RX = [px(1882), 1.0]
TY = [py(727), py(122)]
PY = [py(1410), py(805)]


def xax(domain, anchor, rng, mirror):
    return dict(domain=domain, anchor=anchor, range=rng, tickvals=[1920, 1940, 1960, 1980, 2000],
                ticks="inside", ticklen=13, tickwidth=1.5, tickcolor="#333",
                showline=True, linecolor="#333", linewidth=2, mirror=mirror, automargin=False,
                showgrid=False, zeroline=False, tickfont=tickfont, ticklabelstandoff=4)


def yax(domain, anchor, rng, dtick, mirror):
    return dict(domain=domain, anchor=anchor, range=rng, dtick=dtick, tick0=0,
                ticks="inside", ticklen=13, tickwidth=1.5, tickcolor="#333",
                showline=True, linecolor="#333", linewidth=2, mirror=mirror, automargin=False,
                showgrid=False, zeroline=False, tickfont=tickfont, ticklabelstandoff=24)


right_end = 1920 + (W - 1882) / ((1266 - 155) / 92)

fig.update_layout(
    width=W, height=H, margin=dict(l=0, r=0, t=0, b=0, pad=0),
    paper_bgcolor="white", plot_bgcolor="white", showlegend=False,
    xaxis=xax(LX, "y", [1920, 2012], "ticks"),
    yaxis=yax(TY, "x", [-6, 4], 2, "ticks"),
    xaxis2=xax(LX, "y2", [1920, 2012], "ticks"),
    yaxis2=yax(PY, "x2", [-100, 150], 50, "ticks"),
    xaxis3=xax(RX, "y3", [1920, right_end], "ticks"),
    yaxis3=yax(TY, "x3", [-3, 2], 1, False),
    xaxis4=xax(RX, "y4", [1920, right_end], "ticks"),
    yaxis4=yax(PY, "x4", [-60, 80], 20, False),
)

ann = []
title_font = dict(family=FONT, size=64, color="black")
label_font = dict(family=FONT, size=63, color="#800000")
axis_font = dict(family=FONT, size=31, color="black")

ann.append(dict(text="<b>Annual Average Divisional Anomalies</b>", x=px(683), y=py(57),
                xanchor="center", yanchor="middle", font=title_font))
ann.append(dict(text="<b>5-yr running average of anomalies</b>", x=px(2433), y=py(57),
                xanchor="center", yanchor="middle", font=title_font))
for xl, yl, t in ((238, 155, "Temperature"), (1960, 155, "Temperature"),
                  (236, 842, "Precipitation"), (1962, 842, "Precipitation")):
    ann.append(dict(text="<b>%s</b>" % t, x=px(xl), y=py(yl), xanchor="left", yanchor="middle",
                    font=label_font))
for xl, yl, t in ((67, 412, "Temp Anomaly (°C)"), (66, 1095, "Precp Anomaly (mm)"),
                  (1789, 409, "Temp Anomaly (°C)"), (1787, 1093, "Precp Anomaly (mm)")):
    ann.append(dict(text=t, x=px(xl), y=py(yl), xanchor="center", yanchor="middle",
                    textangle=-90, font=axis_font))
for xl in (711, 2435):
    ann.append(dict(text="Year", x=px(xl), y=0, xanchor="center", yanchor="bottom",
                    font=axis_font))

# legend box (drawn manually to match the original's long line samples)
shapes = [dict(type="rect", xref="paper", yref="paper", x0=px(1324), x1=px(1729),
               y0=py(905), y1=py(426), line=dict(color="black", width=3), fillcolor="white",
               layer="above")]
for i, name in enumerate(regions):
    yc = 460 + i * 34.4
    shapes.append(dict(type="line", xref="paper", yref="paper", x0=px(1345), x1=px(1437),
                       y0=py(yc), y1=py(yc), layer="above",
                       line=dict(color=colors[i], width=3 if i < 5 else 2.2, dash=dashes[i])))
    ann.append(dict(text=name, x=px(1448), y=py(yc), xanchor="left", yanchor="middle",
                    font=dict(family=FONT, size=31, color=colors[i])))

for a in ann:
    a.update(xref="paper", yref="paper", showarrow=False)
fig.update_layout(annotations=ann, shapes=shapes)

fig.write_html("out.html", config={"displayModeBar": False},
               post_script="document.body.style.margin='0px';document.body.style.overflow='hidden';")
